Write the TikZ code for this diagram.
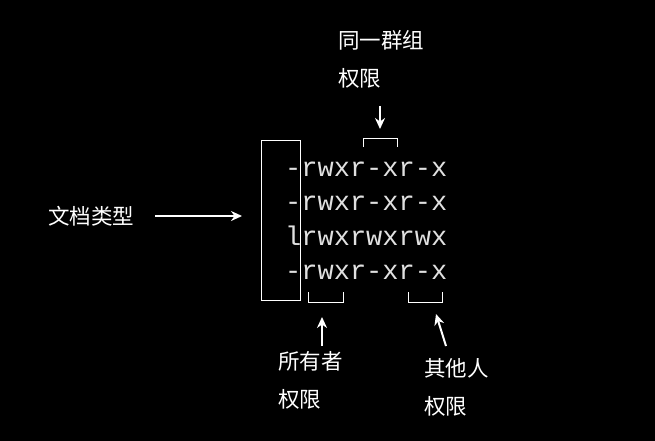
\documentclass[tikz,border=0pt]{standalone}
\usepackage{fontspec}
\setmonofont{Liberation Mono}
\newfontfamily\cjk{Noto Sans CJK SC}
\usetikzlibrary{arrows.meta}
\begin{document}
\begin{tikzpicture}[x=1pt,y=-1pt,
  lbl/.style={text=white,font=\cjk\fontsize{21.5}{21.5}\selectfont,inner sep=0pt},
  perm/.style={text=white!88!black,font=\ttfamily\fontsize{27}{27}\selectfont,inner sep=0pt,anchor=base west},
  arr/.style={white,line width=2pt,-{Stealth[length=11pt,width=10pt]}},
  brk/.style={white,line width=1pt}]
\fill[black] (0,0) rectangle (655,441);
\useasboundingbox (0,0) rectangle (655,441);
\node[perm] (l1) at (285,176) {-rwxr-xr-x};
\node[perm] (l2) at (285,210) {-rwxr-xr-x};
\node[perm] (l3) at (285,245) {lrwxrwxrwx};
\node[perm] (l4) at (285,279) {-rwxr-xr-x};
\draw[brk] (261,140) rectangle (300,300);
% group
\node[lbl,anchor=west] (g1) at (338,40) {同一群组};
\node[lbl,anchor=west] (g2) at (338,78) {权限};
\coordinate (ga) at (380,106);
\coordinate (gb) at (380,129);
\draw[arr] (ga) -- (gb);
\draw[brk] (363,147) -- (363,138) -- (397,138) -- (397,147);
% type
\node[lbl,anchor=west] (t) at (48,216) {文档类型};
\coordinate (ta) at (155,216);
\coordinate (tb) at (242,216);
\draw[arr] (ta) -- (tb);
% owner
\draw[brk] (308,292) -- (308,302) -- (343,302) -- (343,292);
\coordinate (oa) at (322,346);
\coordinate (ob) at (322,317);
\draw[arr] (oa) -- (ob);
\node[lbl,anchor=west] (o1) at (278,361) {所有者};
\node[lbl,anchor=west] (o2) at (278,399) {权限};
% others
\draw[brk] (408,292) -- (408,302) -- (442,302) -- (442,292);
\coordinate (pa) at (446,346);
\coordinate (pb) at (436,314);
\draw[arr] (pa) -- (pb);
\node[lbl,anchor=west] (p1) at (424,368) {其他人};
\node[lbl,anchor=west] (p2) at (424,406) {权限};
\end{tikzpicture}
\end{document}
